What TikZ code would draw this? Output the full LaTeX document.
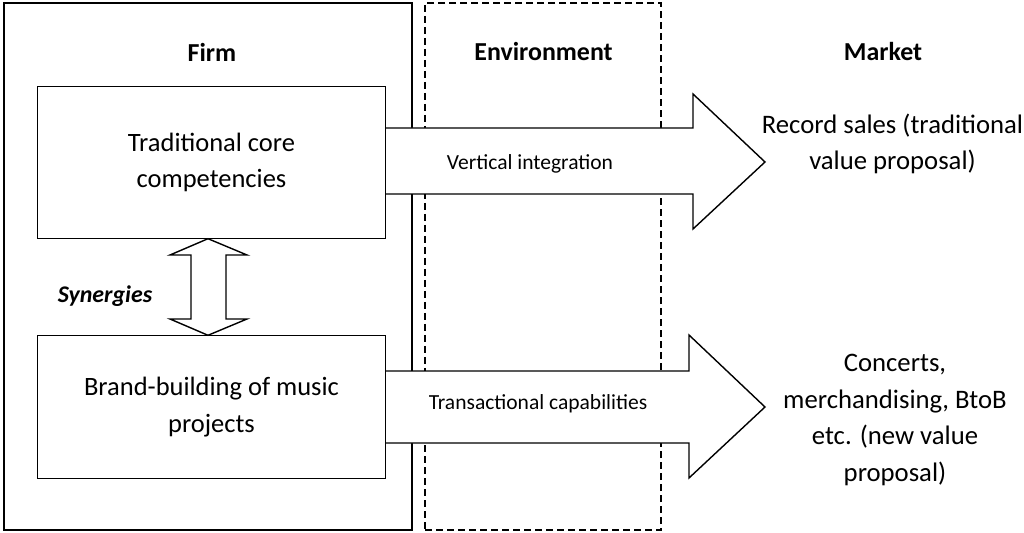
\documentclass[tikz,border=0pt]{standalone}
\usepackage{fontspec}
\setmainfont{Carlito}
\begin{document}
\begin{tikzpicture}[x=1bp,y=-1bp,line width=1.4bp,
  frame/.style={draw,inner sep=0,minimum width=#1},
  corebox/.style={inner sep=0,minimum width=347bp,align=center,
    font=\fontsize{26.6}{36.5}\selectfont},
  heading/.style={inner sep=0,font=\bfseries\fontsize{26}{30}\selectfont},
  arrlabel/.style={inner sep=0,font=\fontsize{21.6}{26}\selectfont},
  market/.style={inner sep=0,align=center,font=\fontsize{26.8}{36.5}\selectfont},
  bigarrow/.style={draw,fill=white,line join=miter},
  dblarrow/.style={draw,fill=white,line join=miter}]
\useasboundingbox (0,0) rectangle (1024,533);
% outer frames
\node[frame=408bp,minimum height=527bp] (firm) at (208,266.5) {};
\node[frame=236bp,minimum height=527bp,dash pattern=on 7bp off 4bp] (env) at (543,266.5) {};
% core boxes (text placed, outline drawn after the arrows)
\node[corebox,minimum height=151bp] (core) at (211.5,162.5) {Traditional core\\competencies};
\node[corebox,minimum height=142bp] (brand) at (211.5,407) {Brand-building of music\\projects};
% big arrows
\draw[bigarrow] (core.east |- 0,128) -- (693,128) -- (693,94) -- (765,162)
  -- (693,229) -- (693,194) -- (core.east |- 0,194);
\draw[bigarrow] (brand.east |- 0,371) -- (689,371) -- (689,335) -- (765,407)
  -- (689,478) -- (689,443) -- (brand.east |- 0,443);
\draw (core.north west) rectangle (core.south east);
\draw (brand.north west) rectangle (brand.south east);
% synergies double arrow
\draw[dblarrow] (core.south -| 208,0) -- (247,255) -- (226,255) -- (226,319) -- (247,319)
  -- (brand.north -| 208,0) -- (170,319) -- (191,319) -- (191,255) -- (170,255) -- cycle;
% headings
\node[heading] (hfirm) at (212,52) {Firm};
\node[heading] (henv) at (543.5,52) {Environment};
\node[heading] (hmarket) at (883,52) {Market};
\node[inner sep=0,font=\bfseries\itshape\fontsize{24}{28}\selectfont] (syn) at (105,296) {Synergies};
% arrow labels
\node[arrlabel] (vi) at (530,164) {Vertical integration};
\node[arrlabel] (tc) at (538,404) {Transactional capabilities};
% market texts
\node[market] (rec) at (892.5,144) {Record sales (traditional\\value proposal)};
\node[market] (conc) at (895,420) {Concerts,\\merchandising, BtoB\\etc. (new value\\proposal)};
\end{tikzpicture}
\end{document}
